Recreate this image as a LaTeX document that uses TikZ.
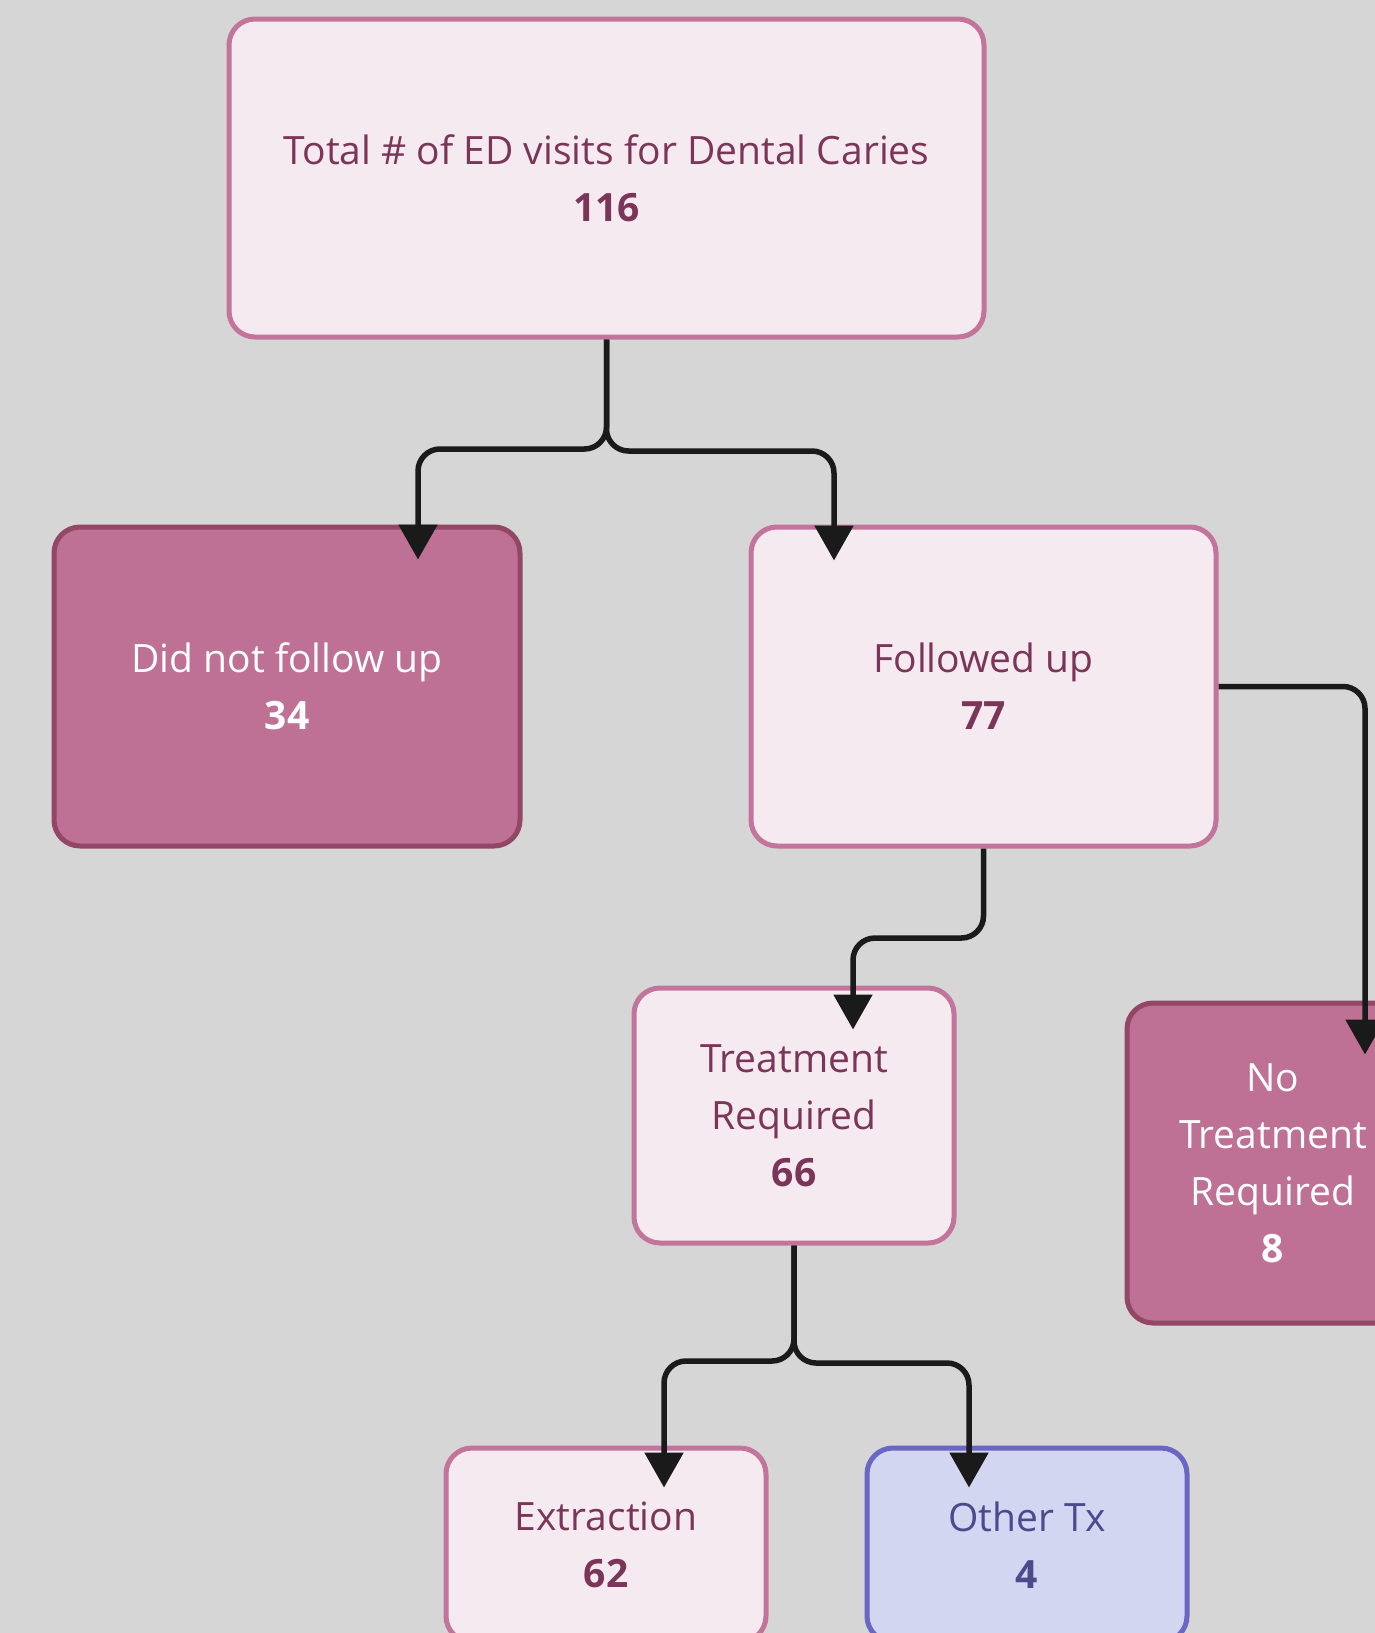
\documentclass[tikz,border=0pt]{standalone}
\usepackage{fontspec}
\setmainfont{Open Sans}
\usetikzlibrary{arrows.meta}
\definecolor{bg}{HTML}{D6D6D6}
\definecolor{lfill}{HTML}{F5EAF0}
\definecolor{lborder}{HTML}{C2749A}
\definecolor{ltext}{HTML}{7B3558}
\definecolor{dfill}{HTML}{BE7095}
\definecolor{dborder}{HTML}{934665}
\definecolor{bfill}{HTML}{D2D6F0}
\definecolor{bborder}{HTML}{6A66C4}
\definecolor{btext}{HTML}{4B4A8C}
\definecolor{conncol}{HTML}{1A1A1A}
\begin{document}
\begin{tikzpicture}[x=1pt,y=-1pt,
  box/.style={rectangle, rounded corners=26pt, line width=5pt, align=center,
    inner sep=0pt, font=\fontsize{39}{57}\selectfont},
  lightbox/.style={box, draw=lborder, fill=lfill, text=ltext},
  darkbox/.style={box, draw=dborder, fill=dfill, text=white},
  bluebox/.style={box, draw=bborder, fill=bfill, text=btext},
  conn/.style={draw=conncol, line width=5.5pt, rounded corners=22pt,
    -{Triangle[width=38pt,length=35pt]}}
]
\fill[bg] (0,0) rectangle (1375,1633);
\useasboundingbox (0,0) rectangle (1375,1633);
\clip (0,0) rectangle (1375,1633);

\node[lightbox, minimum width=755pt, minimum height=318pt] (top) at (606.5,178)
  {Total \# of ED visits for Dental Caries\\\textbf{116}};
\node[darkbox, minimum width=466pt, minimum height=319pt] (dnf) at (287,686.5)
  {Did not follow up\\\textbf{34}};
\node[lightbox, minimum width=465pt, minimum height=319pt] (fu) at (983.5,686.5)
  {Followed up\\\textbf{77}};
\node[lightbox, minimum width=320pt, minimum height=255pt] (tr) at (794,1115.5)
  {Treatment\\Required\\\textbf{66}};
\node[darkbox, minimum width=292pt, minimum height=320pt] (nt) at (1273,1163)
  {No\\Treatment\\Required\\\textbf{8}};
\node[lightbox, minimum width=320pt, minimum height=194pt] (ex) at (606,1545)
  {Extraction\\\textbf{62}};
\node[bluebox, minimum width=320pt, minimum height=194pt] (ot) at (1027,1545)
  {Other Tx\\\textbf{4}};

\draw[conn] (top.south) -- (top.south |- 0,449) -| ([xshift=131pt,yshift=-35pt]dnf.north);
\draw[conn] (top.south) -- (top.south |- 0,451) -| ([xshift=-149.5pt,yshift=-36pt]fu.north);
\draw[conn] (fu.south) -- (fu.south |- 0,938) -| ([xshift=59pt,yshift=-44pt]tr.north);
\draw[conn] (fu.east) -| ([xshift=92pt,yshift=-54pt]nt.north);
\draw[conn] (tr.south) -- (tr.south |- 0,1361) -| ([xshift=58pt,yshift=-42pt]ex.north);
\draw[conn] (tr.south) -- (tr.south |- 0,1363) -| ([xshift=-58pt,yshift=-42pt]ot.north);
\end{tikzpicture}
\end{document}
